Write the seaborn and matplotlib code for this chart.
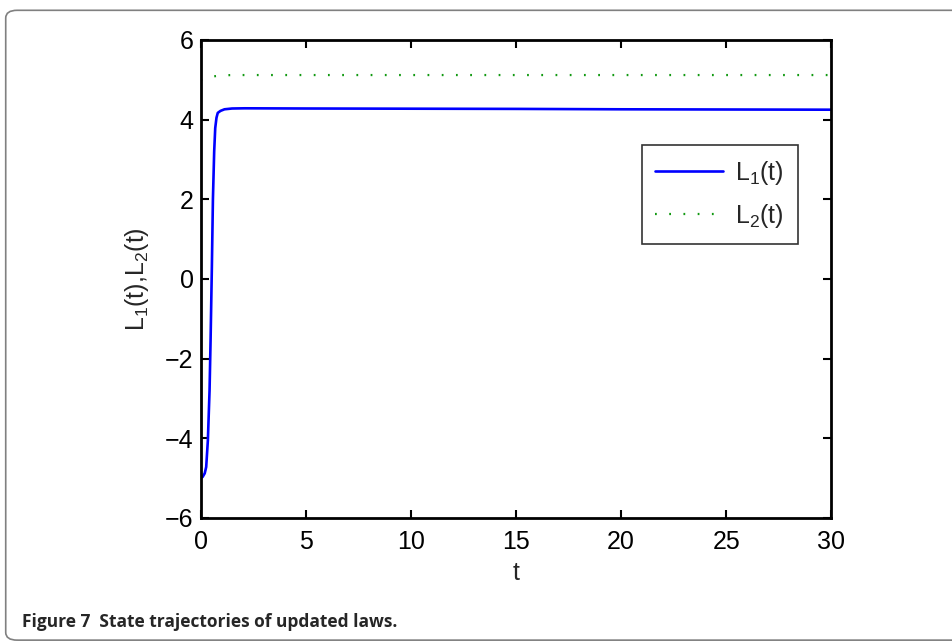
import numpy as np
import pandas as pd
import seaborn as sns
import matplotlib.pyplot as plt
from matplotlib.patches import FancyBboxPatch

# values
t1 = [0, 0.1, 0.2, 0.27, 0.35, 0.43, 0.48, 0.54, 0.59, 0.65, 0.70, 0.76, 0.82,
      0.95, 1.14, 1.5, 2.1, 5, 10, 15, 20, 25, 30]
L1 = [-5.0, -4.97, -4.88, -4.72, -4.05, -2.8, -1.5, 0.3, 2.0, 3.2, 3.79, 4.05, 4.17,
      4.22, 4.26, 4.28, 4.285, 4.28, 4.275, 4.27, 4.26, 4.255, 4.25]
t2 = [0, 0.5, 1.0, 1.5, 30]
L2 = [5.0, 5.08, 5.11, 5.12, 5.12]

xticks = [0, 5, 10, 15, 20, 25, 30]
yticks = [-6, -4, -2, 0, 2, 4, 6]
caption = "Figure 7  State trajectories of updated laws."

df1 = pd.DataFrame({'t': t1, 'L': L1})
df2 = pd.DataFrame({'t': t2, 'L': L2})

sns.set_style("ticks")
plt.rcParams['font.family'] = ['Liberation Sans', 'DejaVu Sans']
plt.rcParams['mathtext.fontset'] = 'custom'
plt.rcParams['mathtext.rm'] = 'Liberation Sans'
plt.rcParams['mathtext.it'] = 'Liberation Sans'

fig = plt.figure(figsize=(9.53, 6.44), dpi=100)
ax = fig.add_axes([0.2104, 0.1957, 0.662, 0.7422])

sns.lineplot(data=df1, x='t', y='L', ax=ax, color='#0000ff', linewidth=1.9,
             label='L$_1$(t)')
sns.lineplot(data=df2, x='t', y='L', ax=ax, color='#119911', linewidth=1.6,
             linestyle=(0, (0.8, 5.6)), label='L$_2$(t)')

ax.set_xlim(0, 30)
ax.set_ylim(-6, 6)
ax.set_xticks(xticks)
ax.set_yticks(yticks)
ax.tick_params(direction='in', length=6, width=1.5, labelsize=18, pad=5,
               colors='black', top=True, right=True)
ax.tick_params(axis='x', pad=9)
for sp in ax.spines.values():
    sp.set_linewidth(2)
    sp.set_color('black')
    sp.set_visible(True)
ax.set_xlabel('t', fontsize=18, labelpad=5)
ax.set_ylabel('L$_1$(t),L$_2$(t)', fontsize=18, labelpad=10)

leg = ax.legend(loc='upper right', bbox_to_anchor=(0.947, 0.780), fontsize=18,
                frameon=True, fancybox=False, handlelength=2.7,
                handletextpad=0.5, borderaxespad=0, borderpad=0.55,
                labelspacing=0.6)
leg.get_frame().set_edgecolor('black')
leg.get_frame().set_linewidth(1.2)

# rounded frame around the figure, open at the right
frame = FancyBboxPatch((0.006, 0.006), 1.1, 0.978, transform=fig.transFigure,
                       boxstyle="round,pad=0,rounding_size=0.012",
                       fill=False, edgecolor='#808080', linewidth=1.2,
                       clip_on=False)
fig.patches.append(frame)

fig.text(0.023, 0.027, caption, fontsize=12.5, fontweight='bold',
         family=['Open Sans', 'DejaVu Sans'], ha='left', va='baseline')

fig.savefig('out.png', dpi=100)
